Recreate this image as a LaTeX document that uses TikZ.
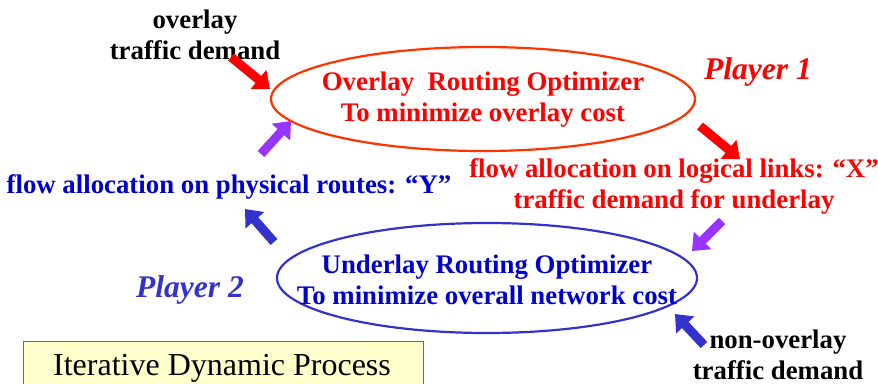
\documentclass[tikz,border=0pt]{standalone}
\usepackage{fontspec}
\setmainfont{Liberation Serif}
\usetikzlibrary{arrows.meta,shapes.geometric}
\definecolor{ored}{HTML}{FF3300}
\definecolor{tred}{HTML}{FF0000}
\definecolor{tblue}{HTML}{0000CC}
\definecolor{eblue}{HTML}{3333CC}
\definecolor{purp}{HTML}{9933FF}
\definecolor{boxfill}{HTML}{FFFFCC}
\tikzset{
  lbl/.style={font=\bfseries\fontsize{26.8}{31}\selectfont, align=center, inner sep=0pt},
  player/.style={font=\bfseries\itshape\fontsize{31.5}{36}\selectfont, inner sep=0pt},
  blockarrow/.style={line width=9pt, -{Triangle[width=24pt,length=15pt]}}
}
\begin{document}
\begin{tikzpicture}[x=1pt,y=-1pt]
\useasboundingbox (0,0) rectangle (878,383);
% ellipses
\node[draw=ored, line width=2.2pt, ellipse, minimum width=424pt, minimum height=104pt] (ov) at (483,99) {};
\node[draw=eblue, line width=2.2pt, ellipse, minimum width=420pt, minimum height=110pt] (un) at (487,278) {};
% ellipse texts
\node[lbl, text=tred] (ovt) at (483,100) {Overlay\ \ Routing Optimizer\\To minimize overlay cost};
\node[lbl, text=tblue] (unt) at (487,280) {Underlay Routing Optimizer\\To minimize overall network cost};
% players
\node[player, text=tred] (p1) at (758,72) {Player 1};
\node[player, text=eblue] (p2) at (190,290) {Player 2};
% labels
\node[lbl, text=black] (od) at (195,35) {overlay\\traffic demand};
\node[lbl, text=tblue] (ya) at (229,187) {flow allocation on physical routes: “Y”};
\node[lbl, text=tred] (xa) at (674,186) {flow allocation on logical links: “X”\\traffic demand for underlay};
\node[lbl, text=black] (nd) at (778,355) {non-overlay\\traffic demand};
% box
\node[draw=ored, fill=boxfill, line width=1pt, minimum width=400pt, minimum height=50pt, anchor=north west, inner sep=0pt] (box) at (23,341) {};
\node[font=\fontsize{32}{36}\selectfont, inner sep=0pt] (boxt) at (222,368) {Iterative Dynamic Process};
% arrows
\coordinate (a1s) at (231,57); \coordinate (a1e) at (270,89);
\draw[blockarrow, tred] (a1s) -- (a1e);
\coordinate (a2s) at (261,154); \coordinate (a2e) at (291,121);
\draw[blockarrow, purp] (a2s) -- (a2e);
\coordinate (a3s) at (700,126); \coordinate (a3e) at (740,159);
\draw[blockarrow, tred] (a3s) -- (a3e);
\coordinate (a4s) at (722,221); \coordinate (a4e) at (692,251);
\draw[blockarrow, purp] (a4s) -- (a4e);
\coordinate (a5s) at (274,242); \coordinate (a5e) at (245,209);
\draw[blockarrow, eblue] (a5s) -- (a5e);
\coordinate (a6s) at (704,345); \coordinate (a6e) at (675,314);
\draw[blockarrow, eblue] (a6s) -- (a6e);
\end{tikzpicture}
\end{document}
